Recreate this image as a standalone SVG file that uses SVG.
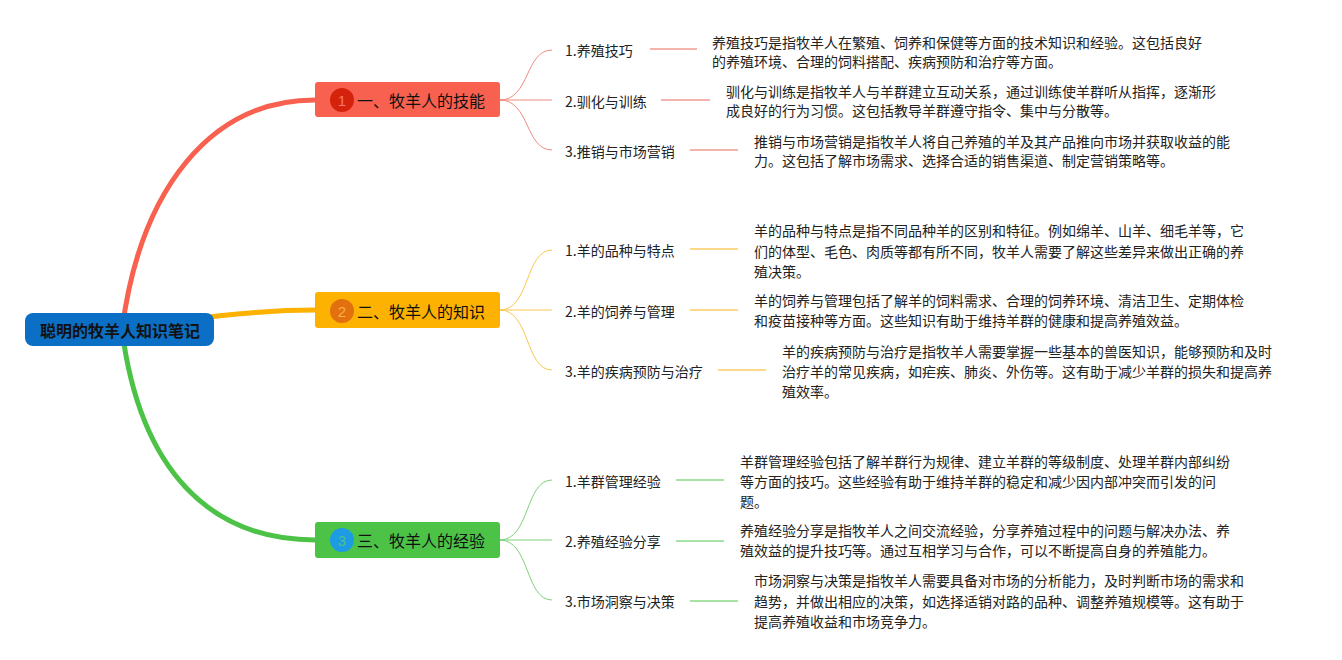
<svg xmlns="http://www.w3.org/2000/svg" width="1342" height="660" viewBox="0 0 1342 660">
<style>
text{font-family:"Noto Sans CJK SC","Liberation Sans",sans-serif;dominant-baseline:central;}
.root{font-size:16px;font-weight:bold;fill:#111;}
.bt{font-size:16px;fill:#111;}
.num{font-size:15px;font-family:"Liberation Sans",sans-serif;}
.cl{font-size:14px;fill:#222;}
.d{font-size:14px;fill:#222;}
.thick{fill:none;stroke-width:5;stroke-linecap:round;}
.thin{fill:none;stroke-width:1;}
.hl{fill:none;stroke-width:2;}
</style>
<rect width="1342" height="660" fill="#fff"/>
<g id="connectors">
<path class="thick" stroke="#f8614f" d="M122,330 C140,190 210,100 315,100"/>
<path class="thick" stroke="#fdb100" stroke-width="6" d="M150,323 C220,316 260,310 315,310"/>
<path class="thick" stroke="#4cc347" d="M122,330 C140,470 210,540 315,540"/>
<g stroke="#f08c80">
<path class="thin" d="M500,100 C530,100 525,50 552,50"/>
<path class="thin" d="M500,100 L552,100"/>
<path class="thin" d="M500,100 C530,100 525,150 552,150"/>
</g>
<g stroke="#f8c850">
<path class="thin" d="M500,310 C530,310 525,250 552,250"/>
<path class="thin" d="M500,310 L552,310"/>
<path class="thin" d="M500,310 C530,310 525,370 552,370"/>
</g>
<g stroke="#7fd27b">
<path class="thin" d="M500,540 C530,540 525,480 552,480"/>
<path class="thin" d="M500,540 L552,540"/>
<path class="thin" d="M500,540 C530,540 525,600 552,600"/>
</g>
<g stroke="#f4b3ab">
<path class="hl" d="M650,49 H697"/>
<path class="hl" d="M661,100 H710"/>
<path class="hl" d="M690,150 H738"/>
</g>
<g stroke="#fcd98a">
<path class="hl" d="M690,249 H738"/>
<path class="hl" d="M690,310 H738"/>
<path class="hl" d="M718,370 H766"/>
</g>
<g stroke="#a9e2a5">
<path class="hl" d="M676,480 H724"/>
<path class="hl" d="M676,541 H724"/>
<path class="hl" d="M690,601 H738"/>
</g>
</g>
<g id="root">
<rect x="25" y="313" width="189" height="33" rx="8" fill="#0b6fc5"/>
<text class="root" x="120" y="330" text-anchor="middle">聪明的牧羊人知识笔记</text>
</g>
<g id="b1">
<rect x="315" y="82" width="185" height="35" rx="3" fill="#f8614f"/>
<circle cx="342" cy="100" r="12" fill="#d5220c"/>
<text class="num" x="342" y="100" text-anchor="middle" fill="#f87a68">1</text>
<text class="bt" x="357" y="100">一、牧羊人的技能</text>
</g>
<g id="b2">
<rect x="315" y="292" width="185" height="36" rx="3" fill="#fdb100"/>
<circle cx="342" cy="311" r="12" fill="#e3700f"/>
<text class="num" x="342" y="311" text-anchor="middle" fill="#fbb043">2</text>
<text class="bt" x="357" y="311">二、牧羊人的知识</text>
</g>
<g id="b3">
<rect x="315" y="522" width="185" height="36" rx="3" fill="#4cc347"/>
<circle cx="342" cy="540" r="12" fill="#1d9be3"/>
<text class="num" x="342" y="540" text-anchor="middle" fill="#4cc38a">3</text>
<text class="bt" x="357" y="540">三、牧羊人的经验</text>
</g>
<g id="c11"><text class="cl" x="565" y="50">1.养殖技巧</text></g>
<g id="c12"><text class="cl" x="565" y="101">2.驯化与训练</text></g>
<g id="c13"><text class="cl" x="565" y="151">3.推销与市场营销</text></g>
<g id="c21"><text class="cl" x="565" y="250">1.羊的品种与特点</text></g>
<g id="c22"><text class="cl" x="565" y="311">2.羊的饲养与管理</text></g>
<g id="c23"><text class="cl" x="565" y="371">3.羊的疾病预防与治疗</text></g>
<g id="c31"><text class="cl" x="565" y="481">1.羊群管理经验</text></g>
<g id="c32"><text class="cl" x="565" y="541">2.养殖经验分享</text></g>
<g id="c33"><text class="cl" x="565" y="601">3.市场洞察与决策</text></g>
<g id="d11"><text class="d" x="712" y="42">养殖技巧是指牧羊人在繁殖、饲养和保健等方面的技术知识和经验。这包括良好</text><text class="d" x="712" y="61">的养殖环境、合理的饲料搭配、疾病预防和治疗等方面。</text></g>
<g id="d12"><text class="d" x="726" y="91">驯化与训练是指牧羊人与羊群建立互动关系，通过训练使羊群听从指挥，逐渐形</text><text class="d" x="726" y="110">成良好的行为习惯。这包括教导羊群遵守指令、集中与分散等。</text></g>
<g id="d13"><text class="d" x="754" y="141">推销与市场营销是指牧羊人将自己养殖的羊及其产品推向市场并获取收益的能</text><text class="d" x="754" y="160">力。这包括了解市场需求、选择合适的销售渠道、制定营销策略等。</text></g>
<g id="d21"><text class="d" x="754" y="230">羊的品种与特点是指不同品种羊的区别和特征。例如绵羊、山羊、细毛羊等，它</text><text class="d" x="754" y="251">们的体型、毛色、肉质等都有所不同，牧羊人需要了解这些差异来做出正确的养</text><text class="d" x="754" y="271">殖决策。</text></g>
<g id="d22"><text class="d" x="754" y="300">羊的饲养与管理包括了解羊的饲料需求、合理的饲养环境、清洁卫生、定期体检</text><text class="d" x="754" y="320">和疫苗接种等方面。这些知识有助于维持羊群的健康和提高养殖效益。</text></g>
<g id="d23"><text class="d" x="782" y="351">羊的疾病预防与治疗是指牧羊人需要掌握一些基本的兽医知识，能够预防和及时</text><text class="d" x="782" y="371">治疗羊的常见疾病，如疟疾、肺炎、外伤等。这有助于减少羊群的损失和提高养</text><text class="d" x="782" y="391">殖效率。</text></g>
<g id="d31"><text class="d" x="740" y="461">羊群管理经验包括了解羊群行为规律、建立羊群的等级制度、处理羊群内部纠纷</text><text class="d" x="740" y="481">等方面的技巧。这些经验有助于维持羊群的稳定和减少因内部冲突而引发的问</text><text class="d" x="740" y="501">题。</text></g>
<g id="d32"><text class="d" x="740" y="530">养殖经验分享是指牧羊人之间交流经验，分享养殖过程中的问题与解决办法、养</text><text class="d" x="740" y="550">殖效益的提升技巧等。通过互相学习与合作，可以不断提高自身的养殖能力。</text></g>
<g id="d33"><text class="d" x="754" y="580">市场洞察与决策是指牧羊人需要具备对市场的分析能力，及时判断市场的需求和</text><text class="d" x="754" y="601">趋势，并做出相应的决策，如选择适销对路的品种、调整养殖规模等。这有助于</text><text class="d" x="754" y="621">提高养殖收益和市场竞争力。</text></g>
</svg>
